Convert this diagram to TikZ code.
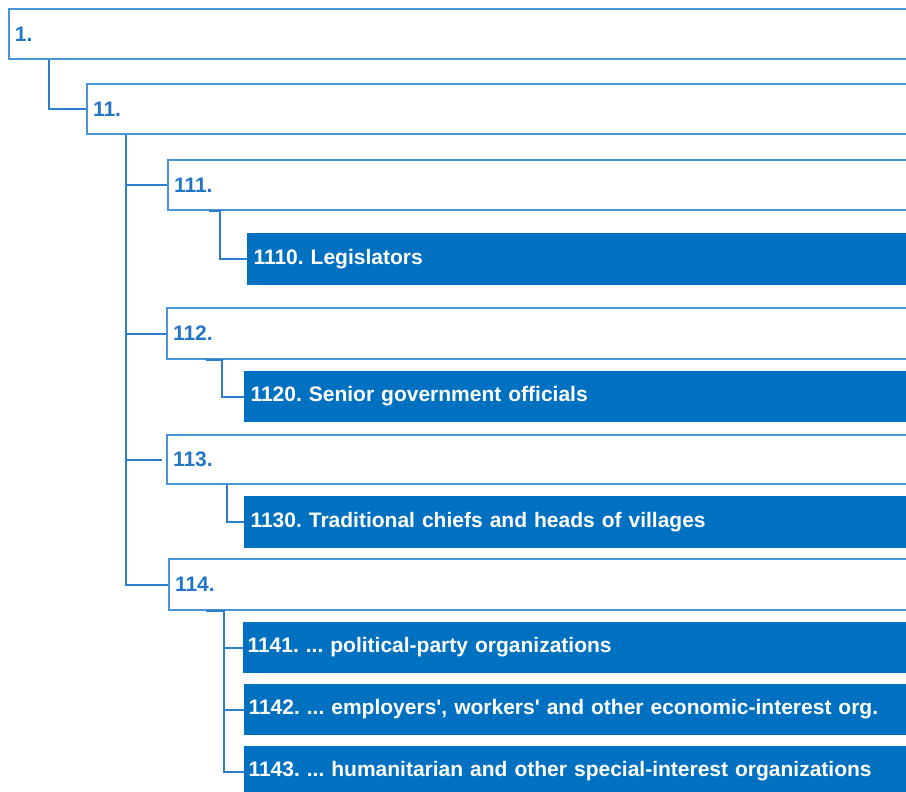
\documentclass[tikz,border=0pt]{standalone}
\usepackage{fontspec}
\setmainfont{Liberation Sans}
\frenchspacing
\definecolor{bord}{RGB}{72,148,214}
\definecolor{tblue}{RGB}{34,118,200}
\definecolor{conn}{RGB}{44,126,204}
\definecolor{dblue}{RGB}{0,112,192}
\tikzset{
  box/.style={anchor=north west, inner xsep=6pt, inner ysep=0pt, align=left,
    font=\bfseries\fontsize{21}{24}\selectfont},
  wbox/.style={box, draw=bord, line width=2pt, fill=white, text=tblue},
  dbox/.style={box, draw=dblue, line width=1pt, fill=dblue, text=white},
  link/.style={draw=conn, line width=2pt}
}
\begin{document}
\begin{tikzpicture}[x=1pt,y=-1pt]
\useasboundingbox (0,0) rectangle (906,792);
\clip (0,0) rectangle (906,792);
\fill[white] (0,0) rectangle (906,792);
% white boxes
\node[wbox, minimum height=50pt, text width=920pt] (n1) at (8,8) {1.};
\node[wbox, minimum height=50pt, text width=840pt] (n11) at (86,83) {11.};
\node[wbox, minimum height=50pt, text width=760pt] (n111) at (167,159) {111.};
\node[wbox, minimum height=51pt, text width=760pt] (n112) at (166,307) {112.};
\node[wbox, minimum height=49pt, text width=760pt] (n113) at (166,434) {113.};
\node[wbox, minimum height=51pt, text width=760pt] (n114) at (168,558) {114.};
% filled boxes
\node[dbox, minimum height=51pt, text width=680pt] (n1110) at (247,233) {1110. Legislators};
\node[dbox, minimum height=50pt, text width=680pt] (n1120) at (244,371) {1120. Senior government officials};
\node[dbox, minimum height=51pt, text width=680pt] (n1130) at (244,496) {1130. Traditional chiefs and heads of villages};
\node[dbox, minimum height=50pt, text width=680pt, inner xsep=4pt] (n1141) at (243,622) {1141. ... political-party organizations};
\node[dbox, minimum height=50pt, text width=680pt, inner xsep=4pt] (n1142) at (244,684) {1142. ... employers\textquotesingle, workers\textquotesingle{} and other economic-interest org.};
\node[dbox, minimum height=50pt, text width=680pt, inner xsep=4pt] (n1143) at (244,746) {1143. ... humanitarian and other special-interest organizations};
% connectors
\draw[link] (n1.south west) ++(41,0) |- (n11.west);
\draw[link] (n11.south west) ++(40,0) coordinate (trunk) |- (n114.west);
\draw[link] (trunk |- n111.west) -- (n111.west);
\draw[link] (trunk |- n112.west) -- (n112.west);
\draw[link] (trunk |- n113.west) -- ([xshift=-4pt]n113.west);
\draw[link] (n111.south west) ++(42,0) -- ++(11,0) |- (n1110.west);
\draw[link] (n112.south west) ++(40,0) -- ++(16,0) |- (n1120.west);
\draw[link] (n113.south west) ++(61,0) |- (n1130.west);
\draw[link] (n114.south west) ++(38,0) -- ++(18,0) coordinate (b114) |- (n1143.west);
\draw[link] (b114 |- n1141.west) -- (n1141.west);
\draw[link] (b114 |- n1142.west) -- (n1142.west);
\end{tikzpicture}
\end{document}
